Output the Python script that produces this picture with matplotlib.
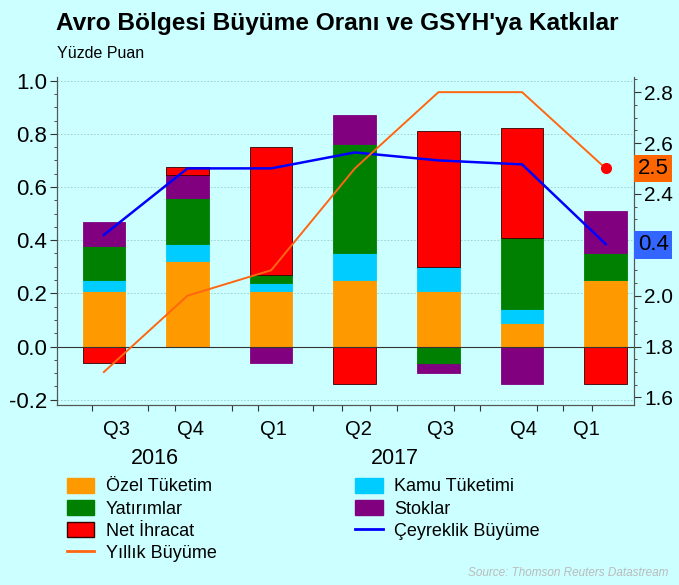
import numpy as np
import matplotlib
matplotlib.use("Agg")
import matplotlib.pyplot as plt
import matplotlib.transforms as mtrans
from matplotlib.patches import Patch
from matplotlib.lines import Line2D

plt.rcParams['font.family'] = ['Liberation Sans', 'DejaVu Sans']

# data
quarters = ["Q3", "Q4", "Q1", "Q2", "Q3", "Q4", "Q1"]
years = ["2016", "2017"]
ozel = [0.21, 0.32, 0.21, 0.25, 0.21, 0.09, 0.25]
kamu = [0.04, 0.065, 0.03, 0.10, 0.09, 0.05, 0.0]
yatirim = [0.13, 0.175, 0.03, 0.41, -0.065, 0.27, 0.10]
stok = [0.09, 0.085, -0.06, 0.11, -0.035, -0.14, 0.16]
net_ihracat = [-0.06, 0.03, 0.48, -0.14, 0.51, 0.41, -0.14]
ceyreklik = [0.42, 0.67, 0.67, 0.73, 0.70, 0.685, 0.385]
yillik = [1.7, 2.0, 2.1, 2.5, 2.8, 2.8, 2.5]

bg = "#CCFFFF"
series = [
    ("Özel Tüketim", ozel, "#FF9900"),
    ("Kamu Tüketimi", kamu, "#00CCFF"),
    ("Yatırımlar", yatirim, "#008000"),
    ("Stoklar", stok, "#800080"),
    ("Net İhracat", net_ihracat, "#FF0000"),
]

fig = plt.figure(figsize=(6.79, 5.85), dpi=100, facecolor=bg)
ax = fig.add_axes([0.084, 0.308, 0.850, 0.561])
ax.set_facecolor(bg)
ax2 = ax.twinx()

x = np.arange(len(quarters))
pos_base = np.zeros(len(x))
neg_base = np.zeros(len(x))
for name, vals, col in series:
    v = np.array(vals)
    bottom = np.where(v >= 0, pos_base, neg_base)
    edge = "#330000" if col == "#FF0000" else col
    ax.bar(x, v, 0.51, bottom=bottom, color=col, edgecolor=edge, linewidth=0.6, zorder=2)
    pos_base = pos_base + np.where(v > 0, v, 0)
    neg_base = neg_base + np.where(v < 0, v, 0)

ax.axhline(0, color="#333333", lw=0.8, zorder=3)
ax.plot(x, ceyreklik, color="#0000FF", lw=1.8, zorder=4)
ax2.plot(x, yillik, color="#FF6611", lw=1.4, zorder=4)
ax2.plot(x[-1], yillik[-1], "o", color="#FF0000", ms=7, zorder=5)

ax.set_xlim(-0.56, 6.34)
ax.set_ylim(-0.219, 1.015)
ax2.set_ylim(1.571, 2.861)
ax.set_yticks(np.arange(-0.2, 1.01, 0.2))
ax.set_yticklabels(["-0.2", "0.0", "0.2", "0.4", "0.6", "0.8", "1.0"])
ax.set_yticks(np.arange(-0.2, 1.01, 0.05), minor=True)
ax2.set_yticks(np.arange(1.6, 2.81, 0.2))
# 2.2 sits under the blue value box
ax2.set_yticklabels(["1.6", "1.8", "2.0", "", "2.4", "2.6", "2.8"])
ax2.set_yticks(np.arange(1.6, 2.86, 0.05), minor=True)
ax.grid(axis="y", color="#99CCCC", lw=0.6, ls=(0, (2, 2)), zorder=0)

ax.tick_params(axis="y", labelsize=16, length=5, width=0.8, colors="#333333", labelcolor="black", pad=2)
ax.tick_params(axis="y", which="minor", length=2.5, width=0.6, colors="#333333")
ax2.tick_params(axis="y", labelsize=15, length=5, width=0.8, colors="#333333", labelcolor="black", pad=2)
ax2.tick_params(axis="y", which="minor", length=2.5, width=0.6, colors="#333333")

# x axis: small ticks, labels placed by hand
tick_pos = [-0.14, 0.53, 0.85, 1.53, 1.84, 2.5, 2.85, 3.18, 3.5, 4.18, 4.5, 5.18, 5.49, 5.84]
ax.set_xticks(tick_pos)
ax.set_xticklabels([])
ax.tick_params(axis="x", length=4, width=0.8, colors="#333333")
label_pos = [0.15, 1.03, 2.03, 3.04, 4.02, 5.02, 5.77]
tb = mtrans.blended_transform_factory(ax.transData, ax.transAxes)
for xp, q in zip(label_pos, quarters):
    ax.text(xp, -0.075, q, transform=tb, ha="center", va="center", fontsize=14.5)
for xp, yr in zip([0.61, 3.48], years):
    ax.text(xp, -0.165, yr, transform=tb, ha="center", va="center", fontsize=15.5)

for a in (ax, ax2):
    a.spines["top"].set_visible(False)
    for s in ("left", "right", "bottom"):
        a.spines[s].set_color("#555555")
        a.spines[s].set_linewidth(0.8)

# value boxes on the right axis
rt = mtrans.blended_transform_factory(ax2.transAxes, ax2.transData)
ax2.text(1.006, yillik[-1], "2.5", transform=rt, ha="left", va="center", fontsize=16, zorder=10,
         bbox=dict(boxstyle="square,pad=0.15", fc="#FF6600", ec="none"), clip_on=False)
ax2.text(1.006, 2.2, "0.4", transform=rt, ha="left", va="center", fontsize=16, zorder=10,
         bbox=dict(boxstyle="square,pad=0.15", fc="#3366FF", ec="none"), clip_on=False)

fig.text(0.083, 0.960, "Avro Bölgesi Büyüme Oranı ve GSYH'ya Katkılar", fontsize=17.6, fontweight="bold",
         ha="left", va="center")
fig.text(0.084, 0.908, "Yüzde Puan", fontsize=11.5, ha="left", va="center")

handles = [
    Patch(fc="#FF9900", ec="#FF9900"),
    Patch(fc="#008000", ec="#008000"),
    Patch(fc="#FF0000", ec="#330000"),
    Line2D([], [], color="#FF6611", lw=2),
    Patch(fc="#00CCFF", ec="#00CCFF"),
    Patch(fc="#800080", ec="#800080"),
    Line2D([], [], color="#0000FF", lw=2),
]
labels = ["Özel Tüketim", "Yatırımlar", "Net İhracat", "Yıllık Büyüme",
          "Kamu Tüketimi", "Stoklar", "Çeyreklik Büyüme"]
fig.legend(handles, labels, ncol=2, loc="upper left", bbox_to_anchor=(0.085, 0.199),
           frameon=False, fontsize=13, handlelength=1.5, handleheight=0.9,
           labelspacing=0.25, columnspacing=7.7, handletextpad=0.65, borderpad=0)

fig.text(0.984, 0.021, "Source: Thomson Reuters Datastream", fontsize=8.5, style="italic",
         color="#BBBBBB", ha="right", va="center")

fig.savefig("out.png", dpi=100, facecolor=bg)
